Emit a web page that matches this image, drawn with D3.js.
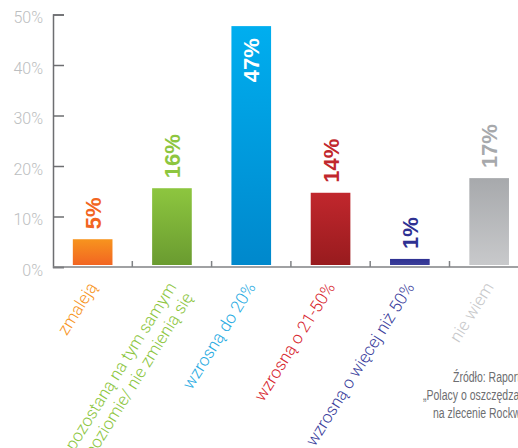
<!DOCTYPE html>
<html>
<head>
<meta charset="utf-8">
<script src="https://cdn.jsdelivr.net/npm/d3@7"></script>
<style>
  body { margin: 0; background: #fff; }
  svg { display: block; }
</style>
</head>
<body>
<svg id="chart"></svg>
<script>
// answers and their shares (%)
const categories = ["zmaleją", "pozostaną na tym samym poziomie/ nie zmienią się", "wzrosną do 20%", "wzrosną o 21-50%", "wzrosną o więcej niż 50%", "nie wiem"];
const categoryLines = [["zmaleją"], ["pozostaną na tym samym", "poziomie/ nie zmienią się"], ["wzrosną do 20%"], ["wzrosną o 21-50%"], ["wzrosną o więcej niż 50%"], ["nie wiem"]];
const values = [5.5, 15.6, 47.7, 14.7, 1.6, 17.6];
const valueLabels = ["5%", "16%", "47%", "14%", "1%", "17%"];
const yTicks = [0, 10, 20, 30, 40, 50];
const sourceLines = ["Źródło: Raport", "„Polacy o oszczędzaniu", "na zlecenie Rockwool"];

const barTop = ["#f7941e", "#8dc63f", "#00aeef", "#c1272d", "#2e3192", "#a7a9ac"];
const barBottom = ["#f26522", "#6a9b30", "#0088cc", "#981b1e", "#3b3e9a", "#c8c9cb"];
const valueColors = ["#f26522", "#8dc63f", "#ffffff", "#c1272d", "#2e3192", "#a7a9ac"];
const labelColors = ["#f7941d", "#8dc63f", "#29abe2", "#d7262e", "#3c3f9d", "#c7c8ca"];

const width = 518, height = 448;
const svg = d3.select("#chart").attr("width", width).attr("height", height);

const x0 = 53, step = 79.3;
const x = d3.scaleBand()
    .domain(categories)
    .range([x0, x0 + step * categories.length])
    .paddingInner(0.5)
    .paddingOuter(0.25);

const y = d3.scaleLinear().domain([0, 50]).range([267, 14.5]);

// gradients
const defs = svg.append("defs");
categories.forEach((c, i) => {
    const g = defs.append("linearGradient")
        .attr("id", "grad" + i)
        .attr("x1", 0).attr("y1", 0).attr("x2", 0).attr("y2", 1);
    g.append("stop").attr("offset", "0%").attr("stop-color", barTop[i]);
    g.append("stop").attr("offset", "100%").attr("stop-color", barBottom[i]);
});

// bars (they sit 2px above the axis line)
svg.append("g")
    .selectAll("rect")
    .data(values)
    .join("rect")
    .attr("x", (d, i) => x(categories[i]))
    .attr("width", x.bandwidth())
    .attr("y", d => y(d))
    .attr("height", d => y(0) - 2 - y(d))
    .attr("fill", (d, i) => "url(#grad" + i + ")");

// y axis
const yAxis = svg.append("g")
    .attr("transform", `translate(${x0},0)`)
    .call(d3.axisLeft(y).tickValues(yTicks).tickSize(-11).tickPadding(10).tickFormat(d => d + "%"));
yAxis.select(".domain").attr("stroke", "#6d6e71").attr("stroke-width", 1.5);
yAxis.selectAll(".tick line").attr("stroke", "#6d6e71").attr("stroke-width", 1.5);
yAxis.selectAll(".tick text")
    .attr("fill", "#bcbec0")
    .attr("dy", "0.5em")
    .style("font-family", "Roboto, 'Liberation Sans', sans-serif")
    .style("font-weight", 300)
    .style("font-size", "16px");

// x axis line and band separators
svg.append("line")
    .attr("x1", x0).attr("x2", width)
    .attr("y1", y(0)).attr("y2", y(0))
    .attr("stroke", "#808285").attr("stroke-width", 1.5);
svg.append("g")
    .selectAll("line")
    .data(categories.slice(1))
    .join("line")
    .attr("x1", d => x(d) - (x.step() - x.bandwidth()) / 2)
    .attr("x2", d => x(d) - (x.step() - x.bandwidth()) / 2)
    .attr("y1", y(0)).attr("y2", y(0) - 6)
    .attr("stroke", "#808285").attr("stroke-width", 1.5);

// value labels
svg.append("g")
    .selectAll("text")
    .data(values)
    .join("text")
    .attr("transform", (d, i) => {
        const cx = x(categories[i]) + x.bandwidth() / 2 + 8;
        const ty = i === 2 ? y(d) + 12 : y(d) - 10;
        return `translate(${cx},${ty}) rotate(-90)`;
    })
    .attr("text-anchor", (d, i) => i === 2 ? "end" : "start")
    .attr("fill", (d, i) => valueColors[i])
    .style("font-family", "'Liberation Sans', Arial, sans-serif")
    .style("font-weight", "bold")
    .style("font-size", "22px")
    .text((d, i) => valueLabels[i]);

// category labels
const catLabels = svg.append("g")
    .selectAll("text")
    .data(categoryLines)
    .join("text")
    .attr("transform", (d, i) => `translate(${x(categories[i]) + x.bandwidth() / 2 + 5},287) rotate(-58)`)
    .attr("text-anchor", "end")
    .attr("fill", (d, i) => labelColors[i])
    .style("font-family", "Roboto, 'Liberation Sans', sans-serif")
    .style("font-weight", 300)
    .style("font-size", "17px");
catLabels.selectAll("tspan")
    .data(d => d)
    .join("tspan")
    .attr("x", 0)
    .attr("dy", (d, j) => j === 0 ? 0 : "1.15em")
    .text(d => d);

// source note (condensed face, squeezed horizontally)
svg.append("g")
    .selectAll("text")
    .data(sourceLines)
    .join("text")
    .attr("transform", (d, i) => `translate(${[453, 423, 433][i]},${382 + i * 18}) scale(0.7,1)`)
    .attr("fill", "#6d6e71")
    .style("font-family", "'Liberation Sans', sans-serif")
    .style("font-size", "15px")
    .text(d => d);
</script>
</body>
</html>
